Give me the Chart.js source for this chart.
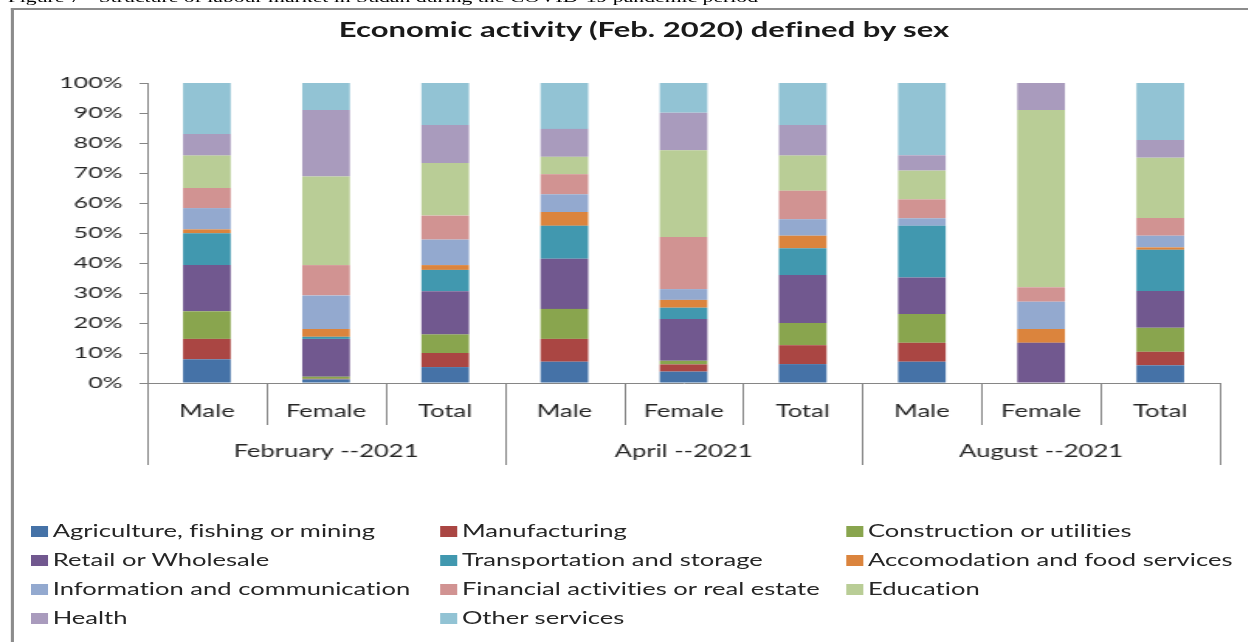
<!DOCTYPE html>
<html>
<head>
<meta charset="UTF-8">
<title>Economic activity (Feb. 2020) defined by sex</title>
<script src="https://cdn.jsdelivr.net/npm/chart.js"></script>
<style>
    body {
        margin: 0;
        background: #FFFFFF;
        overflow: hidden;
    }
    /* the whole figure is laid out narrow and stretched sideways */
    #stage {
        position: absolute;
        left: 0;
        top: 0;
        width: 805px;
        height: 642px;
        transform: scaleX(1.55);
        transform-origin: 0 0;
        font-family: Lato, sans-serif;
        font-variant-ligatures: none;
        color: #262626;
    }
    #caption {
        position: absolute;
        left: 5px;
        top: -10px;
        font-family: "Liberation Serif", serif;
        font-size: 14px;
        line-height: 16px;
        white-space: nowrap;
        color: #000000;
    }
    #frame {
        position: absolute;
        left: 7px;
        top: 8px;
        right: -20px;
        bottom: -20px;
        border-left: 2px solid #8C8C8C;
        border-top: 2px solid #8C8C8C;
    }
    #title {
        position: absolute;
        left: 13px;
        top: 17px;
        width: 805px;
        text-align: center;
        font-weight: bold;
        font-size: 20px;
        color: #1A1A1A;
    }
    #chartBox {
        position: absolute;
        left: 0;
        top: 0;
        width: 805px;
        height: 480px;
    }
    #legend {
        position: absolute;
        left: 20px;
        top: 517px;
        display: grid;
        grid-template-columns: 264px 262px 262px;
        font-size: 16.5px;
        line-height: 29px;
    }
    .item {
        display: flex;
        align-items: center;
        white-space: nowrap;
    }
    .swatch {
        width: 11px;
        height: 11px;
        margin-right: 3px;
    }
</style>
</head>
<body>
<div id="stage">
    <div id="caption">Figure 7 - Structure of labour market in Sudan during the COVID-19 pandemic period</div>
    <div id="frame"></div>
    <div id="title">Economic activity (Feb. 2020) defined by sex</div>
    <div id="chartBox"><canvas id="activityChart"></canvas></div>
    <div id="legend"></div>
</div>

<script>
    // Bars: Male / Female / Total for each survey round
    const categories = ['Male', 'Female', 'Total', 'Male', 'Female', 'Total', 'Male', 'Female', 'Total'];
    const groups = ['February --2021', 'April --2021', 'August --2021'];
    const yTicks = [0, 10, 20, 30, 40, 50, 60, 70, 80, 90, 100];

    // Share of employed (%) by sector, one value per bar
    const agriculture    = [7.9, 1.2, 5.3, 7.1, 3.8, 6.3, 7.1, 0, 5.9];
    const manufacturing  = [6.8, 0.2, 4.7, 7.6, 2.4, 6.3, 6.3, 0, 4.5];
    const construction   = [9.2, 0.7, 6.2, 10.0, 1.2, 7.4, 9.6, 0, 8.0];
    const retail         = [15.4, 12.6, 14.4, 16.7, 13.9, 16.0, 12.2, 13.4, 12.3];
    const transportation = [10.6, 0.7, 7.1, 11.0, 3.8, 8.9, 17.2, 0, 13.7];
    const accommodation  = [1.3, 2.6, 1.6, 4.6, 2.6, 4.2, 0, 4.6, 0.8];
    const information    = [7.1, 11.2, 8.5, 5.9, 3.6, 5.5, 2.5, 9.1, 3.9];
    const financial      = [6.7, 10.1, 8.0, 6.7, 17.4, 9.5, 6.3, 4.8, 5.9];
    const education      = [10.8, 29.5, 17.5, 5.8, 28.9, 11.7, 9.6, 59.1, 20.1];
    const health         = [7.2, 22.2, 12.7, 9.3, 12.5, 10.2, 5.1, 9.0, 5.9];
    const otherServices  = [17.0, 9.0, 14.0, 15.3, 9.9, 14.0, 24.1, 0, 19.0];

    const series = [
        { label: 'Agriculture, fishing or mining', data: agriculture, color: '#4572A7' },
        { label: 'Manufacturing', data: manufacturing, color: '#AA4643' },
        { label: 'Construction or utilities', data: construction, color: '#89A54E' },
        { label: 'Retail or Wholesale', data: retail, color: '#71588F' },
        { label: 'Transportation and storage', data: transportation, color: '#4198AF' },
        { label: 'Accomodation and food services', data: accommodation, color: '#DB843D' },
        { label: 'Information and communication', data: information, color: '#93A9CF' },
        { label: 'Financial activities or real estate', data: financial, color: '#D19392' },
        { label: 'Education', data: education, color: '#B9CD96' },
        { label: 'Health', data: health, color: '#A99BBD' },
        { label: 'Other services', data: otherServices, color: '#92C3D4' }
    ];

    const axisGray = '#868686';
    const textColor = '#262626';

    // Separator lines under the category axis and the survey-round labels
    const groupAxis = {
        id: 'groupAxis',
        afterDraw(chart) {
            const { ctx, chartArea } = chart;
            const x = chart.scales.x;
            const half = (x.getPixelForValue(1) - x.getPixelForValue(0)) / 2;
            ctx.save();
            ctx.strokeStyle = axisGray;
            ctx.lineWidth = 1;
            for (let i = 0; i <= categories.length; i++) {
                const px = Math.round(x.getPixelForValue(i) - half) + 0.5;
                const len = i % 3 === 0 ? 82 : 42;
                ctx.beginPath();
                ctx.moveTo(px, chartArea.bottom);
                ctx.lineTo(px, chartArea.bottom + len);
                ctx.stroke();
            }
            ctx.fillStyle = textColor;
            ctx.font = '16.5px Lato';
            ctx.textAlign = 'center';
            ctx.textBaseline = 'middle';
            groups.forEach((g, k) => {
                ctx.fillText(g, x.getPixelForValue(k * 3 + 1), chartArea.bottom + 69);
            });
            ctx.restore();
        }
    };

    const ctx = document.getElementById('activityChart').getContext('2d');
    new Chart(ctx, {
        type: 'bar',
        data: {
            labels: categories,
            datasets: series.map(s => ({
                label: s.label,
                data: s.data,
                backgroundColor: s.color,
                borderWidth: 0,
                barPercentage: 0.4,
                categoryPercentage: 1
            }))
        },
        options: {
            responsive: true,
            maintainAspectRatio: false,
            animation: false,
            layout: { padding: { top: 83, right: 18, left: 0, bottom: 0 } },
            plugins: {
                legend: { display: false },
                tooltip: { enabled: false }
            },
            scales: {
                x: {
                    stacked: true,
                    grid: { drawOnChartArea: false, drawTicks: false, color: axisGray },
                    border: { color: axisGray },
                    ticks: { color: textColor, font: { family: 'Lato', size: 16.5 }, padding: 19 },
                    afterFit(scale) { scale.height = 97; }
                },
                y: {
                    stacked: true,
                    min: yTicks[0],
                    max: yTicks[yTicks.length - 1],
                    afterBuildTicks(scale) { scale.ticks = yTicks.map(v => ({ value: v })); },
                    grid: { drawOnChartArea: false, tickLength: 5, color: axisGray },
                    border: { color: axisGray },
                    ticks: {
                        color: textColor,
                        font: { family: 'Lato', size: 16 },
                        padding: 11,
                        callback: v => v + '%'
                    },
                    afterFit(scale) { scale.width = 95; }
                }
            }
        },
        plugins: [groupAxis]
    });

    // Legend in three columns, filled row by row
    const legend = document.getElementById('legend');
    series.forEach(s => {
        const item = document.createElement('div');
        item.className = 'item';
        const sw = document.createElement('span');
        sw.className = 'swatch';
        sw.style.background = s.color;
        item.appendChild(sw);
        item.appendChild(document.createTextNode(s.label));
        legend.appendChild(item);
    });
</script>
</body>
</html>
